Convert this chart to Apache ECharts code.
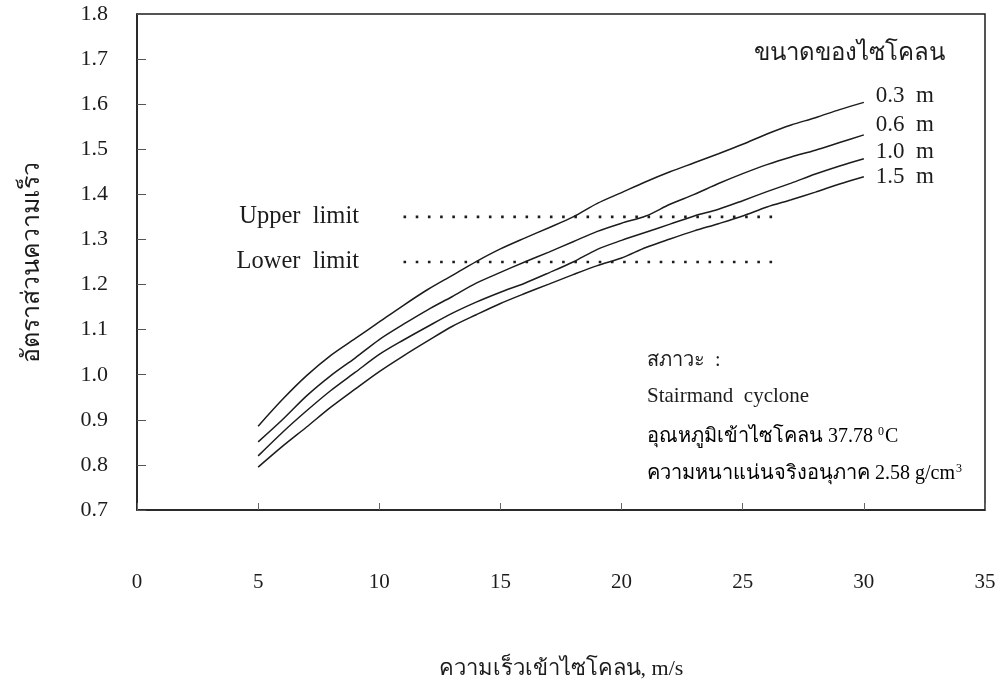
<!DOCTYPE html>
<html>
<head>
<meta charset="utf-8">
<script src="https://cdn.jsdelivr.net/npm/echarts@6/dist/echarts.min.js"></script>
<style>html,body{margin:0;padding:0;background:#fff;}#c{width:1004px;height:685px;}</style>
</head>
<body>
<div id="c"></div>
<script>
var velocity = [5,6,7,8,9,10,11,12,13,14,15,16,17,18,19,20,21,22,23,24,25,26,27,28,29,30];
var d03 = [0.886,0.945,0.998,1.043,1.080,1.117,1.154,1.189,1.220,1.251,1.279,1.303,1.326,1.350,1.380,1.404,1.428,1.450,1.470,1.490,1.511,1.534,1.554,1.570,1.588,1.604];
var d06 = [0.851,0.900,0.953,0.998,1.037,1.078,1.112,1.144,1.173,1.203,1.227,1.250,1.272,1.295,1.318,1.336,1.352,1.378,1.400,1.424,1.446,1.466,1.483,1.498,1.515,1.532];
var d10 = [0.820,0.872,0.920,0.965,1.005,1.045,1.077,1.107,1.136,1.161,1.183,1.203,1.226,1.250,1.278,1.298,1.316,1.334,1.352,1.367,1.386,1.406,1.425,1.445,1.463,1.479];
var d15 = [0.795,0.841,0.884,0.928,0.968,1.007,1.042,1.075,1.107,1.133,1.158,1.180,1.201,1.222,1.242,1.259,1.282,1.301,1.319,1.335,1.352,1.372,1.388,1.405,1.423,1.439];
var sizeNames = ['0.3  m','0.6  m','1.0  m','1.5  m'];
var limitX = [11, 26.5];
var upperLimit = 1.35;
var lowerLimit = 1.25;
var xTicks = {min:0, max:35, step:5};
var yTicks = {min:0.7, max:1.8, step:0.1};

var serif = '"Liberation Serif", "Noto Sans", serif';
var ink = '#1c1c1c';
function pairs(ys){ return velocity.map(function(x,i){ return [x, ys[i]]; }); }

var endOffsets = [[4,-6],[4,-10],[4,-7],[4,0]];
var curveData = [d03,d06,d10,d15];
var series = curveData.map(function(ys, k){
  return {
    type:'line', name:sizeNames[k], data:pairs(ys), showSymbol:false, smooth:0.3,
    lineStyle:{color:ink, width:1.5}, silent:true,
    endLabel:{show:true, formatter:sizeNames[k], color:ink, fontFamily:serif, fontSize:23, offset:endOffsets[k]}
  };
});
function limitSeries(y, text){
  return {
    type:'line', silent:true, showSymbol:true, symbol:'circle', symbolSize:1,
    itemStyle:{color:'rgba(0,0,0,0)', borderWidth:0},
    data:[{value:[limitX[0], y], label:{show:true, position:'left', distance:44, formatter:text, color:ink, fontFamily:serif, fontSize:24.5}}, [limitX[1], y]],
    lineStyle:{color:ink, width:2.6, type:[2.6,9.6]}
  };
}
series.push(limitSeries(upperLimit, 'Upper  limit'));
series.push(limitSeries(lowerLimit, 'Lower  limit'));

var chart = echarts.init(document.getElementById('c'));
chart.setOption({
  animation:false,
  backgroundColor:'#fff',
  grid:{left:137, right:19, top:14, bottom:174, show:true, borderColor:ink, borderWidth:1.5, backgroundColor:'transparent'},
  xAxis:{
    type:'value', min:xTicks.min, max:xTicks.max, interval:xTicks.step,
    name:'ความเร็วเข้าไซโคลน, m/s', nameLocation:'middle', nameGap:148,
    nameTextStyle:{fontFamily:serif, fontSize:22, color:ink},
    axisLine:{show:true, lineStyle:{color:ink, width:1.5}},
    axisTick:{show:true, inside:true, length:7, lineStyle:{color:'#666', width:1}},
    axisLabel:{margin:62, fontFamily:serif, fontSize:21, color:ink},
    splitLine:{show:false}
  },
  yAxis:{
    type:'value', min:yTicks.min, max:yTicks.max, interval:yTicks.step,
    name:'อัตราส่วนความเร็ว', nameLocation:'middle', nameGap:92, nameRotate:90,
    nameTextStyle:{fontFamily:serif, fontSize:25, color:ink},
    axisLine:{show:true, lineStyle:{color:ink, width:1.5}},
    axisTick:{show:true, inside:true, length:9, lineStyle:{color:'#555', width:1}},
    axisLabel:{margin:29, fontFamily:serif, fontSize:22, color:ink, formatter:function(v){return v.toFixed(1);}},
    splitLine:{show:false}
  },
  graphic:[
    {type:'text', right:59, top:42, style:{text:'ขนาดของไซโคลน', fontFamily:serif, fontSize:24, fill:ink}},
    {type:'text', left:647, top:351, style:{text:'สภาวะ  :', fontFamily:serif, fontSize:20, fill:ink}},
    {type:'text', left:647, top:386, style:{text:'Stairmand  cyclone', fontFamily:serif, fontSize:21, fill:ink}},
    {type:'text', left:647, top:426, style:{
      text:'{a|อุณหภูมิเข้าไซโคลน 37.78 }{s|0}{a|C}',
      rich:{a:{fontFamily:serif, fontSize:20, color:ink}, s:{fontFamily:serif, fontSize:12, color:ink, verticalAlign:'top', padding:[0,1,10,0]}}
    }},
    {type:'text', left:647, top:463, style:{
      text:'{a|ความหนาแน่นจริงอนุภาค 2.58 g/cm}{s|3}',
      rich:{a:{fontFamily:serif, fontSize:20, color:ink}, s:{fontFamily:serif, fontSize:12, color:ink, verticalAlign:'top', padding:[0,0,10,1]}}
    }}
  ],
  series:series
});
</script>
</body>
</html>
